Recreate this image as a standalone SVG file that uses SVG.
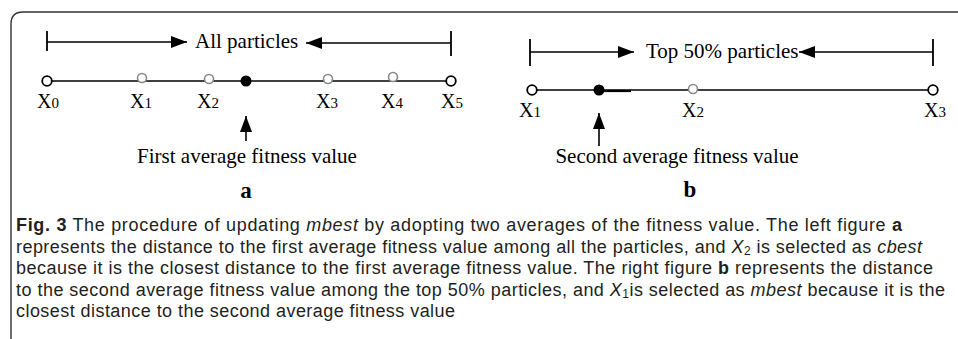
<svg xmlns="http://www.w3.org/2000/svg" width="958" height="339" viewBox="0 0 958 339">
<defs>
<marker id="ah" viewBox="0 0 16 12" refX="16" refY="6" markerWidth="16" markerHeight="12" markerUnits="userSpaceOnUse" orient="auto">
<path d="M0,0 L16,6 L0,12 Z" fill="#000"/>
</marker>
</defs>
<style>
.ln{stroke:#000;stroke-width:1.6;fill:none}
.tk{stroke:#000;stroke-width:1.8}
.open{fill:#fff;stroke:#000;stroke-width:1.8}
.gray{fill:#fff;stroke:#888;stroke-width:1.6}
.fill{fill:#000}
.serif{font-family:"Liberation Serif","Times New Roman",serif;fill:#000}
.lbl{font-size:21px}
.x{font-size:20px}
.sub{font-size:15px}
.bold{font-weight:bold;font-size:23px}
.cap{font-family:"Liberation Sans",Arial,sans-serif;font-size:18px;fill:#231f20}
.csub{font-size:12px}
</style>
<rect width="958" height="339" fill="#fff"/>
<path d="M11,339 L11,24 Q11,12 23,12 L958,12" fill="none" stroke="#333" stroke-width="1.4"/>

<g id="connectors">
<line class="tk" x1="47" y1="31" x2="47" y2="51"/>
<line class="ln" x1="47" y1="42" x2="187" y2="42" marker-end="url(#ah)"/>
<line class="tk" x1="451" y1="31" x2="451" y2="56"/>
<line class="ln" x1="451" y1="43" x2="306" y2="43" marker-end="url(#ah)"/>
<line class="ln" x1="47" y1="81" x2="451" y2="81"/>
<line class="ln" x1="246" y1="141" x2="246" y2="116" marker-end="url(#ah)"/>

<line class="tk" x1="530" y1="39" x2="530" y2="66"/>
<line class="ln" x1="530" y1="52" x2="634" y2="52" marker-end="url(#ah)"/>
<line class="tk" x1="933" y1="39" x2="933" y2="66"/>
<line class="ln" x1="933" y1="52" x2="799" y2="52" marker-end="url(#ah)"/>
<line class="ln" x1="532" y1="90" x2="933" y2="90"/>
<line x1="599" y1="91" x2="631" y2="91" stroke="#000" stroke-width="2.2"/>
<line class="ln" x1="599" y1="146" x2="599" y2="113" marker-end="url(#ah)"/>
</g>

<g id="label-all"><text class="serif lbl" x="195" y="48">All particles</text></g>
<g id="label-top"><text class="serif lbl" x="646" y="58">Top 50% particles</text></g>

<g id="a-x0"><circle class="open" cx="47" cy="81" r="4.8"/><text class="serif x" x="37" y="108">X<tspan class="sub">0</tspan></text></g>
<g id="a-x1"><circle class="gray" cx="142" cy="78" r="4.5"/><text class="serif x" x="130" y="108">X<tspan class="sub">1</tspan></text></g>
<g id="a-x2"><circle class="gray" cx="209" cy="79" r="4.5"/><text class="serif x" x="197" y="108">X<tspan class="sub">2</tspan></text></g>
<g id="a-avg"><circle class="fill" cx="246" cy="81" r="5.5"/></g>
<g id="a-x3"><circle class="gray" cx="328" cy="79" r="4.5"/><text class="serif x" x="316" y="108">X<tspan class="sub">3</tspan></text></g>
<g id="a-x4"><circle class="gray" cx="393" cy="77" r="4.5"/><text class="serif x" x="381" y="108">X<tspan class="sub">4</tspan></text></g>
<g id="a-x5"><circle class="open" cx="451" cy="81" r="4.8"/><text class="serif x" x="441" y="108">X<tspan class="sub">5</tspan></text></g>
<g id="a-first"><text class="serif lbl" x="247" y="163" text-anchor="middle">First average fitness value</text></g>
<g id="a-label"><text class="serif bold" x="246" y="198" text-anchor="middle">a</text></g>

<g id="b-x1"><circle class="open" cx="532" cy="90" r="4.8"/><text class="serif x" x="519" y="117">X<tspan class="sub">1</tspan></text></g>
<g id="b-avg"><circle class="fill" cx="599" cy="90" r="5.5"/></g>
<g id="b-x2"><circle class="gray" cx="693" cy="89" r="4.5"/><text class="serif x" x="682" y="117">X<tspan class="sub">2</tspan></text></g>
<g id="b-x3"><circle class="open" cx="933" cy="90" r="4.8"/><text class="serif x" x="924" y="117">X<tspan class="sub">3</tspan></text></g>
<g id="b-second"><text class="serif lbl" x="677" y="163" text-anchor="middle">Second average fitness value</text></g>
<g id="b-label"><text class="serif bold" x="690" y="197" text-anchor="middle">b</text></g>

<g id="caption" class="cap">
<text x="16" y="231" textLength="886" lengthAdjust="spacing"><tspan font-weight="bold">Fig. 3</tspan>  The procedure of updating <tspan font-style="italic">mbest</tspan> by adopting two averages of the fitness value. The left figure <tspan font-weight="bold">a</tspan></text>
<text x="16" y="253" textLength="906" lengthAdjust="spacing">represents the distance to the first average fitness value among all the particles, and <tspan font-style="italic">X</tspan><tspan class="csub" baseline-shift="-1.5">2</tspan> is selected as <tspan font-style="italic">cbest</tspan></text>
<text x="16" y="274" textLength="917" lengthAdjust="spacing">because it is the closest distance to the first average fitness value. The right figure <tspan font-weight="bold">b</tspan> represents the distance</text>
<text x="16" y="296" textLength="929" lengthAdjust="spacing">to the second average fitness value among the top 50% particles, and <tspan font-style="italic">X</tspan><tspan class="csub" baseline-shift="-1.5">1</tspan>is selected as <tspan font-style="italic">mbest</tspan> because it is the</text>
<text x="16" y="317" textLength="439" lengthAdjust="spacing">closest distance to the second average fitness value</text>
</g>
</svg>
